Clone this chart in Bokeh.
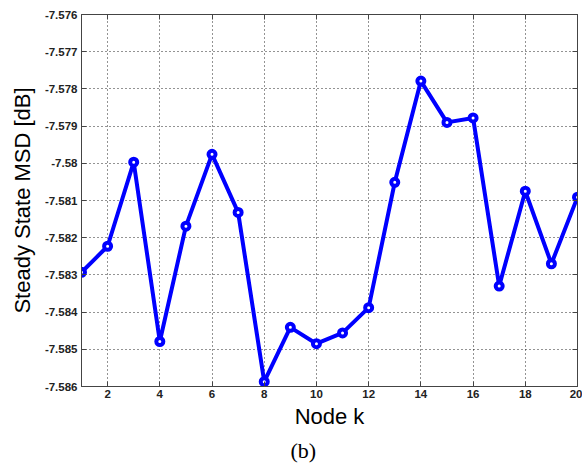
from bokeh.plotting import figure
from bokeh.models import LinearAxis, Range1d, FixedTicker, Title
from bokeh.embed import file_html
from bokeh.resources import INLINE

nodes = list(range(1, 21))
msd = [-7.58293, -7.58223, -7.57997, -7.58479, -7.58169, -7.57976, -7.58132,
       -7.58587, -7.58441, -7.58485, -7.58456, -7.58388, -7.58051, -7.57779,
       -7.57890, -7.57878, -7.58330, -7.58075, -7.58270, -7.58091]

y_ticks = [-7.586, -7.585, -7.584, -7.583, -7.582, -7.581, -7.580,
           -7.579, -7.578, -7.577, -7.576]
y_labels = ["-7.586", "-7.585", "-7.584", "-7.583", "-7.582", "-7.581", "-7.58",
            "-7.579", "-7.578", "-7.577", "-7.576"]
x_ticks = [2, 4, 6, 8, 10, 12, 14, 16, 18, 20]

W, H = 582, 468
p = figure(width=W, height=H, output_backend="svg", toolbar_location=None,
           x_range=Range1d(1, 20), y_range=Range1d(-7.586, -7.576),
           min_border_left=81, min_border_right=5, min_border_top=14,
           min_border_bottom=82, x_axis_label="Node k",
           y_axis_label="Steady State MSD [dB]")
p.background_fill_color = "white"
p.border_fill_color = "white"
p.outline_line_color = "#444444"
p.outline_line_width = 1

tick_font = "Liberation Sans"
for ax in (p.xaxis[0], p.yaxis[0]):
    ax.major_tick_in = 5
    ax.major_tick_out = 0
    ax.minor_tick_in = 0
    ax.minor_tick_out = 0
    ax.axis_line_color = "#444444"
    ax.major_tick_line_color = "#444444"
    ax.major_label_text_font = tick_font
    ax.major_label_text_font_size = "11.5px"
    ax.major_label_text_font_style = "bold"
    ax.major_label_text_color = "#222222"
    ax.axis_label_text_font = "Liberation Sans"
    ax.axis_label_text_font_size = "22px"
    ax.axis_label_text_font_style = "normal"
    ax.axis_label_text_color = "black"

p.xaxis[0].ticker = FixedTicker(ticks=x_ticks)
p.yaxis[0].ticker = FixedTicker(ticks=y_ticks)
p.yaxis[0].major_label_overrides = {t: l for t, l in zip(y_ticks, y_labels)}
p.xaxis[0].major_label_standoff = 3
p.yaxis[0].major_label_standoff = 4
p.xaxis[0].axis_label_standoff = 3
p.yaxis[0].axis_label_standoff = 7

for loc, ticks in (("right", y_ticks), ("above", x_ticks)):
    ax = LinearAxis(ticker=FixedTicker(ticks=ticks))
    ax.major_tick_in = 5
    ax.major_tick_out = 0
    ax.minor_tick_in = 0
    ax.minor_tick_out = 0
    ax.major_label_text_font_size = "0px"
    ax.major_label_text_alpha = 0
    ax.axis_line_color = "#444444"
    ax.major_tick_line_color = "#444444"
    p.add_layout(ax, loc)

p.xgrid.ticker = FixedTicker(ticks=x_ticks)
p.ygrid.ticker = FixedTicker(ticks=y_ticks)
for g in (p.xgrid[0], p.ygrid[0]):
    g.grid_line_color = "black"
    g.grid_line_dash = "1 3"
    g.grid_line_width = 1
    g.grid_line_alpha = 0.85

p.line(nodes, msd, line_color="#0000ff", line_width=4)
p.scatter(nodes, msd, marker="circle", size=7, line_color="#0000ff",
          line_width=4, fill_color="white")

cap = Title(text="(b)", align="left", offset=209,
            text_font="Liberation Serif", text_font_size="22px",
            text_font_style="normal", text_color="black", standoff=8)
p.add_layout(cap, "below")

open("out.html", "w").write(file_html(p, INLINE))
